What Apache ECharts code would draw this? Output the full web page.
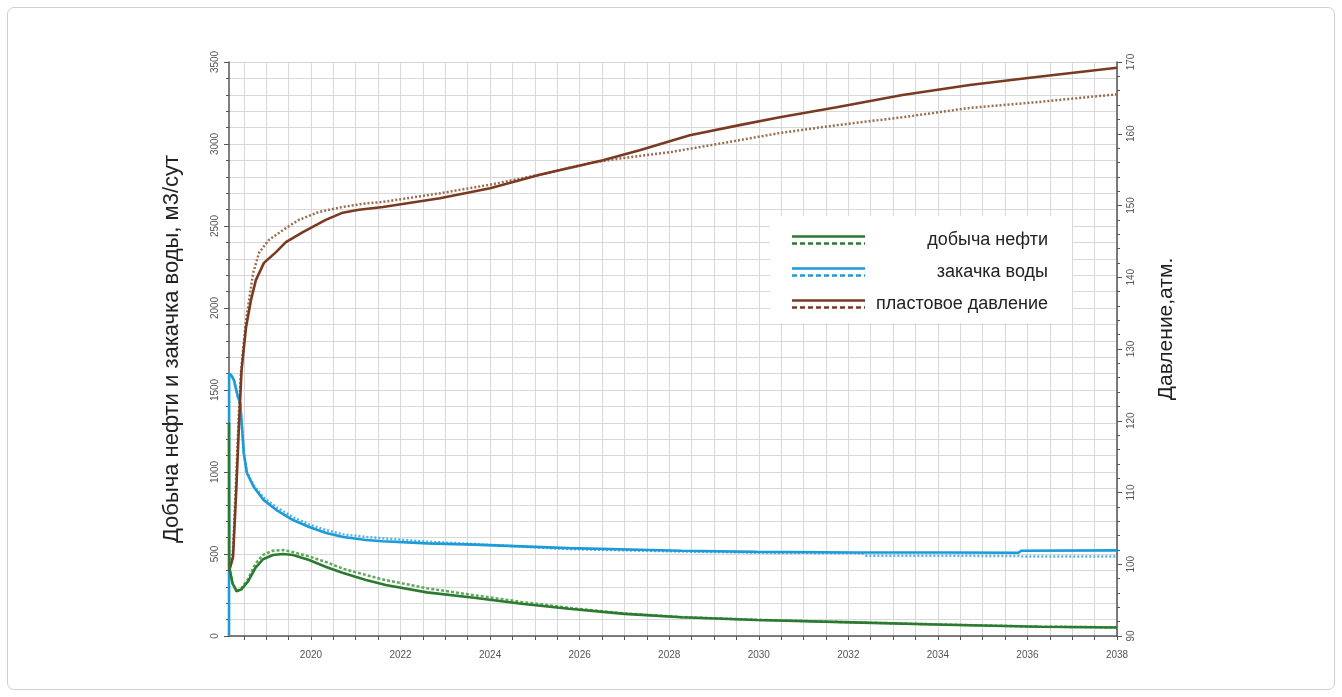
<!DOCTYPE html>
<html>
<head>
<meta charset="utf-8">
<script src="https://cdn.jsdelivr.net/npm/echarts@6/dist/echarts.min.js"></script>
<style>
  html, body { margin: 0; padding: 0; background: #fff; }
  #frame { position: absolute; left: 7px; top: 7px; width: 1326px; height: 681px; border: 1px solid #cfcfcf; border-radius: 7px; }
  #chart { position: absolute; left: 0; top: 0; width: 1342px; height: 697px; }
</style>
</head>
<body>
<div id="frame"></div>
<div id="chart"></div>
<script>
// ---------- data ----------
const xLabelYears = [2020, 2022, 2024, 2026, 2028, 2030, 2032, 2034, 2036, 2038];
const xTickYears = [];
for (let y = 2018.5; y <= 2038.001; y += 0.5) xTickYears.push(+y.toFixed(1));

// oil production (solid)
const oilYears = [2018.17, 2018.175, 2018.25, 2018.34, 2018.45, 2018.6, 2018.76, 2018.93, 2019.15, 2019.38, 2019.6, 2019.96, 2020.34, 2020.72, 2021.23, 2021.67, 2022.59, 2023.64, 2024.7, 2025.76, 2027.0, 2028.28, 2029.95, 2032.08, 2034.17, 2036.27, 2038];
const oilRate  = [1300, 420, 320, 272, 285, 335, 415, 468, 494, 500, 494, 463, 421, 384, 341, 311, 266, 233, 197, 166, 135, 114, 98, 83, 69, 56, 52];
// oil production (dashed)
const oilYears2 = [2018.175, 2018.25, 2018.34, 2018.45, 2018.6, 2018.76, 2018.93, 2019.15, 2019.38, 2019.6, 2019.96, 2020.34, 2020.72, 2021.23, 2021.67, 2022.59, 2023.64, 2024.7, 2025.76, 2027.0, 2028.28, 2029.95, 2032.08, 2034.17, 2036.27, 2038];
const oilRate2  = [420, 320, 275, 292, 350, 440, 495, 520, 524, 512, 485, 451, 410, 372, 341, 291, 249, 208, 172, 138, 115, 99, 84, 70, 57, 53];

// water injection (solid)
const injYears = [2018.17, 2018.172, 2018.22, 2018.28, 2018.37, 2018.42, 2018.46, 2018.5, 2018.57, 2018.72, 2018.94, 2019.23, 2019.6, 2019.96, 2020.34, 2020.72, 2021.23, 2021.6, 2022.6, 2023.64, 2025.76, 2028.28, 2029.95, 2032.08, 2034.17, 2035.8, 2035.86, 2038];
const injRate  = [0, 1600, 1590, 1560, 1457, 1420, 1275, 1115, 994, 910, 830, 768, 707, 665, 628, 604, 585, 578, 565, 557, 536, 520, 513, 509, 509, 508, 520, 522];
// water injection (dashed)
const injYears2 = [2018.172, 2018.22, 2018.28, 2018.37, 2018.42, 2018.46, 2018.5, 2018.57, 2018.72, 2018.94, 2019.23, 2019.6, 2019.96, 2020.34, 2020.72, 2021.23, 2021.6, 2022.6, 2023.64, 2025.76, 2028.28, 2029.95, 2032.3, 2032.4, 2035.8, 2035.9, 2038];
const injRate2  = [1600, 1590, 1560, 1457, 1420, 1275, 1115, 1000, 920, 845, 785, 725, 680, 646, 620, 604, 596, 575, 561, 530, 515, 509, 505, 490, 488, 484, 484];

// reservoir pressure (solid), atm
const presYears = [2018.17, 2018.26, 2018.33, 2018.39, 2018.45, 2018.55, 2018.66, 2018.77, 2018.95, 2019.22, 2019.44, 2019.82, 2020.33, 2020.71, 2021.07, 2021.61, 2022.88, 2024.0, 2025.11, 2026.52, 2027.34, 2028.46, 2029.57, 2030.47, 2031.74, 2033.21, 2034.71, 2036.2, 2038];
const pressure  = [99, 101, 110, 119, 127, 133, 136.8, 139.6, 142.0, 143.5, 144.9, 146.3, 148.0, 149.0, 149.4, 149.8, 151.0, 152.4, 154.3, 156.3, 157.7, 159.8, 161.2, 162.3, 163.7, 165.4, 166.8, 167.9, 169.2];
// reservoir pressure (dashed)
const presYears2 = [2018.17, 2018.26, 2018.33, 2018.39, 2018.44, 2018.55, 2018.71, 2018.84, 2019.06, 2019.38, 2019.73, 2020.18, 2020.71, 2021.23, 2021.61, 2022.88, 2024.0, 2025.11, 2026.22, 2026.96, 2028.08, 2029.2, 2030.47, 2031.74, 2033.21, 2034.71, 2036.2, 2038];
const pressure2  = [99, 102, 112, 121, 127, 134.0, 140.6, 143.4, 145.2, 146.6, 148.0, 149.1, 149.8, 150.3, 150.5, 151.7, 152.9, 154.3, 155.9, 156.6, 157.5, 158.7, 160.1, 161.2, 162.3, 163.6, 164.4, 165.5];

const names = ['добыча нефти', 'закачка воды', 'пластовое давление'];

function zip(xs, ys) { return xs.map((x, i) => [x, ys[i]]); }

// ---------- chart ----------
const FONT = "'Liberation Sans', Arial, sans-serif";
const AXIS = '#555';
const GRID = '#d8d8d8';
const C = {
  oil: '#2b7a30', oil2: '#5fa85c',
  inj: '#1d9ad8', inj2: '#55b3ea',
  pres: '#7a3a22', pres2: '#9a6d4e'
};

// legend icon: solid line on top, dashed line below
let dash = '';
for (let x = 0; x < 73; x += 8) dash += ' M' + x + ' 7H' + Math.min(x + 5, 73) + 'V9.5H' + x + 'Z';
const legendIcon = 'path://M0 0H73V2.5H0Z' + dash;

const chart = echarts.init(document.getElementById('chart'), null, { renderer: 'canvas' });
chart.setOption({
  backgroundColor: 'transparent',
  animation: false,
  textStyle: { fontFamily: FONT },
  grid: { left: 229, right: 225, top: 62, bottom: 61, containLabel: false, outerBoundsMode: 'none' },
  legend: {
    data: names,
    orient: 'vertical',
    left: 770, top: 216,
    padding: [15, 24, 10, 22],
    backgroundColor: '#fff',
    itemWidth: 73, itemHeight: 10,
    itemGap: 14,
    icon: legendIcon,
    itemStyle: { borderWidth: 0 },
    formatter: n => '{t|' + n + '}',
    textStyle: {
      rich: { t: { width: 178, align: 'right', fontSize: 18, color: '#222', fontFamily: FONT } }
    },
    z: 10
  },
  xAxis: {
    type: 'value',
    min: 2018.17, max: 2038,
    axisLine: { show: true, onZero: false, lineStyle: { color: AXIS, width: 1.5 } },
    axisTick: { show: true, customValues: xTickYears, length: 4, lineStyle: { color: AXIS } },
    axisLabel: { customValues: xLabelYears, fontSize: 10, color: '#555', margin: 14, formatter: v => String(Math.round(v)) },
    splitLine: { show: true, lineStyle: { color: GRID, width: 1 } }
  },
  yAxis: [
    {
      type: 'value', min: 0, max: 3500, interval: 500, position: 'left',
      name: 'Добыча нефти и закачка воды, м3/сут',
      nameLocation: 'middle', nameRotate: 90, nameGap: 46,
      nameTextStyle: { fontSize: 22, color: '#222', fontFamily: FONT },
      axisLine: { show: true, lineStyle: { color: AXIS, width: 1.5 } },
      axisTick: { show: true, length: 5, lineStyle: { color: AXIS } },
      minorTick: { show: true, splitNumber: 5, length: 3, lineStyle: { color: AXIS } },
      axisLabel: { rotate: 90, fontSize: 10, color: '#555', margin: 9, formatter: v => String(v) },
      splitLine: { show: true, lineStyle: { color: GRID, width: 1 } },
      minorSplitLine: { show: true, lineStyle: { color: GRID, width: 1 } }
    },
    {
      type: 'value', min: 90, max: 170, interval: 10, position: 'right',
      name: 'Давление,атм.',
      nameLocation: 'middle', nameRotate: 90, nameGap: 39,
      nameTextStyle: { fontSize: 21, color: '#222', fontFamily: FONT, padding: [0, 0, 0, 40] },
      axisLine: { show: true, lineStyle: { color: AXIS, width: 1.5 } },
      axisTick: { show: true, length: 5, lineStyle: { color: AXIS } },
      minorTick: { show: true, splitNumber: 5, length: 3, lineStyle: { color: AXIS } },
      axisLabel: { rotate: 90, fontSize: 10, color: '#555', margin: 9, formatter: v => String(v) },
      splitLine: { show: false }
    }
  ],
  series: [
    { name: 'закачка воды (вар. 2)', type: 'line', yAxisIndex: 0, showSymbol: false, symbol: 'none',
      data: zip(injYears2, injRate2), lineStyle: { color: C.inj2, width: 2.5, type: [2, 2] }, itemStyle: { color: C.inj2 }, z: 2 },
    { name: 'закачка воды', type: 'line', yAxisIndex: 0, showSymbol: false, symbol: 'none',
      data: zip(injYears, injRate), lineStyle: { color: C.inj, width: 2.6 }, itemStyle: { color: C.inj }, z: 3 },
    { name: 'добыча нефти (вар. 2)', type: 'line', yAxisIndex: 0, showSymbol: false, symbol: 'none',
      data: zip(oilYears2, oilRate2), lineStyle: { color: C.oil2, width: 2.5, type: [3, 2] }, itemStyle: { color: C.oil2 }, z: 4 },
    { name: 'добыча нефти', type: 'line', yAxisIndex: 0, showSymbol: false, symbol: 'none',
      data: zip(oilYears, oilRate), lineStyle: { color: C.oil, width: 2.6 }, itemStyle: { color: C.oil }, z: 5 },
    { name: 'пластовое давление (вар. 2)', type: 'line', yAxisIndex: 1, showSymbol: false, symbol: 'none',
      data: zip(presYears2, pressure2), lineStyle: { color: C.pres2, width: 2.5, type: [2, 2] }, itemStyle: { color: C.pres2 }, z: 2 },
    { name: 'пластовое давление', type: 'line', yAxisIndex: 1, showSymbol: false, symbol: 'none',
      data: zip(presYears, pressure), lineStyle: { color: C.pres, width: 2.6 }, itemStyle: { color: C.pres }, z: 3 }
  ]
});
</script>
</body>
</html>
